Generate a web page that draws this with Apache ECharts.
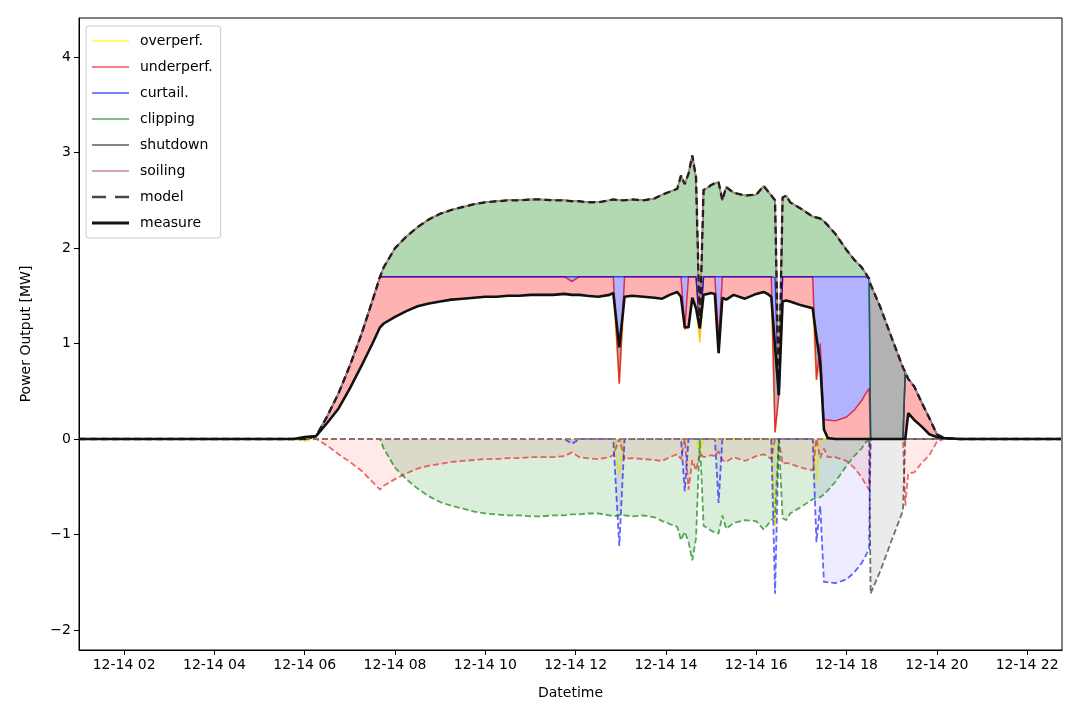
<!DOCTYPE html>
<html><head><meta charset="utf-8">
<script src="https://cdn.jsdelivr.net/npm/echarts@6/dist/echarts.min.js"></script>
<style>html,body{margin:0;padding:0;background:#fff}#c{width:1080px;height:720px}</style>
</head><body><div id="c"></div>
<script>
// ---- data (12-14) ----
const times = ['01:00','03:00','05:00','05:45','06:00','06:15','06:30','06:45','07:00','07:15','07:30','07:40','07:45','08:00','08:15','08:30','08:45','09:00','09:15','09:30','09:45','10:00','10:15','10:30','10:45','11:00','11:15','11:30','11:45','11:55','12:05','12:15','12:30','12:45','12:50','12:58','13:05','13:15','13:30','13:45','13:55','14:05','14:15','14:20','14:25','14:30','14:35','14:40','14:45','14:50','14:55','15:00','15:05','15:10','15:15','15:20','15:30','15:45','16:00','16:10','16:15','16:20','16:25','16:30','16:35','16:40','16:45','17:00','17:15','17:20','17:25','17:30','17:35','17:45','18:00','18:10','18:20','18:25','18:30','18:32','18:45','19:00','19:15','19:18','19:22','19:30','19:40','19:50','20:00','20:10','20:30','22:45'];
const model =    [0,0,0,0,0,0.03,0.24,0.48,0.77,1.09,1.45,1.70,1.80,2.00,2.12,2.22,2.30,2.36,2.40,2.43,2.46,2.48,2.49,2.50,2.50,2.51,2.51,2.50,2.50,2.49,2.49,2.48,2.48,2.50,2.51,2.50,2.50,2.51,2.50,2.52,2.56,2.59,2.62,2.76,2.67,2.78,2.97,2.74,1.16,2.61,2.63,2.66,2.68,2.69,2.50,2.64,2.58,2.55,2.56,2.65,2.60,2.55,2.50,0.46,2.53,2.55,2.48,2.41,2.33,2.32,2.31,2.28,2.24,2.15,1.98,1.88,1.80,1.74,1.68,1.62,1.38,1.06,0.75,0.70,0.63,0.55,0.38,0.22,0.05,0.01,0,0];
const measure =  [0,0,0,0,0.02,0.03,0.17,0.32,0.53,0.76,1.00,1.17,1.21,1.28,1.34,1.39,1.42,1.44,1.46,1.47,1.48,1.49,1.49,1.50,1.50,1.51,1.51,1.51,1.52,1.51,1.51,1.50,1.49,1.51,1.53,0.96,1.49,1.50,1.49,1.48,1.47,1.51,1.54,1.49,1.17,1.17,1.48,1.37,1.16,1.51,1.52,1.53,1.52,0.90,1.48,1.46,1.51,1.47,1.52,1.54,1.52,1.49,0.97,0.46,1.44,1.45,1.44,1.40,1.37,1.07,0.80,0.10,0.01,0,0,0,0,0,0,0,0,0,0,0,0.27,0.20,0.13,0.05,0.02,0.01,0,0];
const overperf = [0,0,0,0,0.02,0,0,0,0,0,0,0,0,0,0,0,0,0,0,0,0,0,0,0,0,0,0,0,0,0,0,0,0,0,0,0.38,0,0,0,0,0,0,0,0,0.02,0,0,0,0.15,0,0,0,0,0,0,0,0,0,0,0,0,0,0.90,0,0,0,0,0,0,0.45,0,0,0,0,0,0,0,0,0,0,0,0,0,0,0,0,0,0,0,0,0,0];
const underperf= [0,0,0,0,0,0,0.07,0.16,0.24,0.33,0.45,0.53,0.49,0.42,0.36,0.31,0.28,0.26,0.24,0.23,0.22,0.21,0.21,0.20,0.20,0.19,0.19,0.19,0.18,0.14,0.19,0.20,0.21,0.19,0.17,0,0.21,0.20,0.21,0.22,0.23,0.19,0.16,0.21,0,0.53,0.22,0.33,0.15,0.19,0.18,0.17,0.18,0.13,0.22,0.24,0.19,0.23,0.18,0.16,0.18,0.21,0,0,0.26,0.25,0.26,0.30,0.33,0,0.20,0.10,0.19,0.19,0.23,0.30,0.40,0.47,0.53,0,0,0,0,0.70,0.36,0.35,0.25,0.17,0.03,0,0,0];
const curtail =  [0,0,0,0,0,0,0,0,0,0,0,0,0,0,0,0,0,0,0,0,0,0,0,0,0,0,0,0,0,0.05,0,0,0,0,0,1.12,0,0,0,0,0,0,0,0,0.55,0,0,0,0,0,0,0,0,0.67,0,0,0,0,0,0,0,0,1.62,0,0,0,0,0,0,1.08,0.70,1.50,1.50,1.51,1.47,1.40,1.30,1.23,1.15,0,0,0,0,0,0,0,0,0,0,0,0,0];
const clipping = [0,0,0,0,0,0,0,0,0,0,0,0,0.10,0.30,0.42,0.52,0.60,0.66,0.70,0.73,0.76,0.78,0.79,0.80,0.80,0.81,0.81,0.80,0.80,0.79,0.79,0.78,0.78,0.80,0.81,0.80,0.80,0.81,0.80,0.82,0.86,0.89,0.92,1.06,0.97,1.08,1.27,1.04,0,0.91,0.93,0.96,0.98,0.99,0.80,0.94,0.88,0.85,0.86,0.95,0.90,0.85,0.81,0,0.83,0.85,0.78,0.71,0.63,0.62,0.61,0.58,0.54,0.45,0.28,0.18,0.10,0.04,0,0,0,0,0,0,0,0,0,0,0,0,0,0];
const shutdown = [0,0,0,0,0,0,0,0,0,0,0,0,0,0,0,0,0,0,0,0,0,0,0,0,0,0,0,0,0,0,0,0,0,0,0,0,0,0,0,0,0,0,0,0,0,0,0,0,0,0,0,0,0,0,0,0,0,0,0,0,0,0,0,0,0,0,0,0,0,0,0,0,0,0,0,0,0,0,0,1.62,1.38,1.06,0.75,0,0,0,0,0,0,0,0,0];
const soiling =  [0,0,0,0,0,0,0,0,0,0,0,0,0,0,0,0,0,0,0,0,0,0,0,0,0,0,0,0,0,0,0,0,0,0,0,0,0,0,0,0,0,0,0,0,0,0,0,0,0,0,0,0,0,0,0,0,0,0,0,0,0,0,0,0,0,0,0,0,0,0,0,0,0,0,0,0,0,0,0,0,0,0,0,0,0,0,0,0,0,0,0,0];
const xTickHours = [2,4,6,8,10,12,14,16,18,20,22];
const yTicks = [-2,-1,0,1,2,3,4];

// ---- build ----
const T = (h, m, s) => new Date(2020, 11, 14, h, m, s || 0).getTime();
const ts = times.map(t => { const p = t.split(':').map(Number); return T(p[0], p[1]); });
const xTicks = xTickHours.map(h => T(h, 0));
const X_MIN = T(1, 0), X_MAX = T(22, 46, 20);
const pair = arr => arr.map((v, i) => [ts[i], v]);
const neg = arr => arr.map((v, i) => [ts[i], v === 0 ? 0 : -v]);
const base = measure.map((v, i) => Math.round((v - overperf[i]) * 1000) / 1000);
const FONT = 'DejaVu Sans';
const pad = n => (n < 10 ? '0' : '') + n;

function negSeries(name, arr, line, fill) {
  return { name: name, type: 'line', data: neg(arr), symbol: 'none', showSymbol: false, z: 2,
    lineStyle: { color: line, width: 1.8, type: [6, 3] },
    areaStyle: fill ? { color: fill } : undefined, silent: true };
}
function stackSeries(name, arr, stack, line, fill, z) {
  return { name: name, type: 'line', data: pair(arr), stack: stack, stackStrategy: 'all', symbol: 'none', showSymbol: false, z: z || 3,
    lineStyle: line ? { color: line, width: 1.5 } : { width: 0, opacity: 0 },
    areaStyle: fill ? { color: fill, opacity: 1 } : undefined, silent: true };
}

const series = [
  negSeries('n-over', overperf, 'rgba(235,225,0,0.8)', 'rgba(255,255,0,0.25)'),
  negSeries('n-under', underperf, 'rgba(230,30,30,0.65)', 'rgba(255,0,0,0.12)'),
  negSeries('n-curt', curtail, 'rgba(0,0,255,0.6)', 'rgba(0,0,255,0.1)'),
  negSeries('n-clip', clipping, 'rgba(0,128,0,0.65)', 'rgba(0,128,0,0.2)'),
  negSeries('n-shut', shutdown, 'rgba(0,0,0,0.55)', 'rgba(0,0,0,0.11)'),
  negSeries('n-soil', soiling, 'rgba(188,143,143,0.7)', null),
  stackSeries('o-base', base, 'ov', 'rgba(255,190,0,0.7)', null, 3),
  stackSeries('overperf.', overperf, 'ov', null, 'rgba(255,255,0,0.3)', 3),
  stackSeries('p-base', base, 'pos', null, null, 3),
  stackSeries('underperf.', underperf, 'pos', 'rgba(215,0,40,0.75)', 'rgba(255,0,0,0.3)', 3),
  stackSeries('curtail.', curtail, 'pos', 'rgba(0,0,220,0.7)', 'rgba(0,0,255,0.3)', 3),
  stackSeries('clipping', clipping, 'pos', 'rgba(0,128,0,0.6)', 'rgba(0,128,0,0.3)', 3),
  stackSeries('shutdown', shutdown, 'pos', 'rgba(40,80,90,0.8)', 'rgba(0,0,0,0.3)', 3),
  stackSeries('soiling', soiling, 'pos', 'rgba(200,140,140,0.95)', null, 4),
  { name: 'model', type: 'line', data: pair(model), symbol: 'none', showSymbol: false, z: 5, silent: true,
    lineStyle: { color: 'rgba(0,0,0,0.78)', width: 2.4, type: [7, 4] } },
  { name: 'measure', type: 'line', data: pair(measure), symbol: 'none', showSymbol: false, z: 6, silent: true,
    lineStyle: { color: '#111', width: 2.6 } }
];

const solid = 'path://M0,0H37V2.2H0Z';
const thick = 'path://M0,0H37V3H0Z';
const dashed = 'path://M0,0H14V2.6H0Z M23,0H37V2.6H23Z';
const L = (name, icon, color) => ({ name: name, icon: icon, itemStyle: { color: color, borderWidth: 0, opacity: 1 } });

const chart = echarts.init(document.getElementById('c'), null, { renderer: 'canvas' });
chart.setOption({
  animation: false,
  backgroundColor: '#fff',
  grid: { left: 79, right: 18, top: 18, bottom: 70, show: true, borderColor: '#000', borderWidth: 1, backgroundColor: 'transparent' },
  legend: {
    orient: 'vertical', left: 86, top: 26, padding: [8, 8, 8, 6], itemGap: 12, itemWidth: 37, itemHeight: 14,
    borderColor: '#cccccc', borderWidth: 1, borderRadius: 3, backgroundColor: 'rgba(255,255,255,0.85)',
    symbolKeepAspect: true, selectedMode: false,
    textStyle: { fontFamily: FONT, fontSize: 14, color: '#000', padding: [0, 0, 0, 6] },
    data: [
      L('overperf.', solid, 'rgba(255,245,0,0.55)'),
      L('underperf.', solid, 'rgba(240,0,0,0.5)'),
      L('curtail.', solid, 'rgba(0,0,255,0.5)'),
      L('clipping', solid, 'rgba(0,128,0,0.5)'),
      L('shutdown', solid, 'rgba(0,0,0,0.48)'),
      L('soiling', solid, 'rgba(188,110,110,0.6)'),
      L('model', dashed, 'rgba(0,0,0,0.72)'),
      L('measure', thick, '#111')
    ]
  },
  xAxis: [
    { // data axis (time), hidden
      type: 'time', min: X_MIN, max: X_MAX, show: false, position: 'bottom'
    },
    { // visible axis with the tick labels
      type: 'value', min: X_MIN, max: X_MAX, position: 'bottom',
      axisLine: { show: true, onZero: false, lineStyle: { color: '#000', width: 1 } },
      axisTick: { show: true, length: 5, lineStyle: { color: '#000' }, customValues: xTicks },
      axisLabel: { customValues: xTicks, margin: 8, color: '#000', fontFamily: FONT, fontSize: 14, hideOverlap: false,
        formatter: v => { const d = new Date(v); return pad(d.getMonth() + 1) + '-' + pad(d.getDate()) + ' ' + pad(d.getHours()); } },
      splitLine: { show: false },
      name: 'Datetime', nameLocation: 'middle', nameGap: 36,
      nameTextStyle: { fontFamily: FONT, fontSize: 14, color: '#000' }
    }
  ],
  yAxis: {
    type: 'value', min: -2.21, max: 4.41,
    axisLine: { show: true, onZero: false, lineStyle: { color: '#000', width: 1 } },
    axisTick: { show: true, length: 5, lineStyle: { color: '#000' }, customValues: yTicks },
    axisLabel: { customValues: yTicks, margin: 8, color: '#000', fontFamily: FONT, fontSize: 14,
      formatter: v => (v < 0 ? '\u2212' + Math.abs(v) : String(v)) },
    splitLine: { show: false },
    name: 'Power Output [MW]', nameLocation: 'middle', nameRotate: 90, nameGap: 46,
    nameTextStyle: { fontFamily: FONT, fontSize: 14, color: '#000' }
  },
  series: series
});
</script>
</body></html>
